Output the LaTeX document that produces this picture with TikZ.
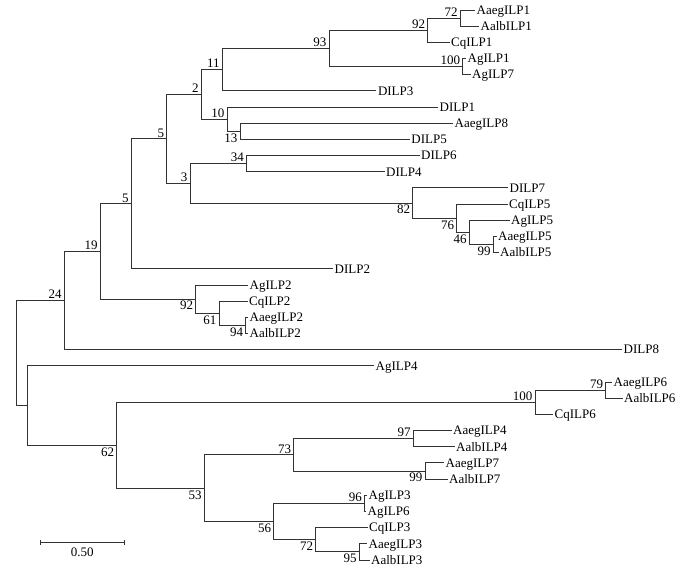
\documentclass[tikz,border=0pt]{standalone}
\usepackage{fontspec}
\setmainfont{Liberation Serif}
\usetikzlibrary{positioning}
\tikzset{
    tree/.style={line width=1pt, black!80},
    leaf/.style={anchor=west, inner xsep=1.5pt, inner ysep=0pt, text height=8.5pt, text depth=0pt},
    bsa/.style={anchor=south east, inner xsep=2.5pt, inner ysep=1.5pt},
    bsb/.style={anchor=north east, inner xsep=2.5pt, inner ysep=2pt}
}

\begin{document}
\begin{tikzpicture}[x=1pt, y=-1pt, font=\fontsize{13}{15}\selectfont]
  \useasboundingbox (0,0) rectangle (689,568);

  % leaves
  \node[leaf] (AaegILP1) at (475,10.0) {AaegILP1};
  \node[leaf] (AalbILP1) at (479,26.2) {AalbILP1};
  \node[leaf] (CqILP1) at (449.5,42.4) {CqILP1};
  \node[leaf] (AgILP1) at (466,58.5) {AgILP1};
  \node[leaf] (AgILP7) at (470.5,74.7) {AgILP7};
  \node[leaf] (DILP3) at (376.3,90.9) {DILP3};
  \node[leaf] (DILP1) at (438,107.1) {DILP1};
  \node[leaf] (AaegILP8) at (453,123.2) {AaegILP8};
  \node[leaf] (DILP5) at (409.7,139.4) {DILP5};
  \node[leaf] (DILP6) at (419.5,155.6) {DILP6};
  \node[leaf] (DILP4) at (384.5,171.8) {DILP4};
  \node[leaf] (DILP7) at (508,187.9) {DILP7};
  \node[leaf] (CqILP5) at (507.5,204.1) {CqILP5};
  \node[leaf] (AgILP5) at (509.5,220.3) {AgILP5};
  \node[leaf] (AaegILP5) at (496.5,236.5) {AaegILP5};
  \node[leaf] (AalbILP5) at (498.5,252.6) {AalbILP5};
  \node[leaf] (DILP2) at (333,268.8) {DILP2};
  \node[leaf] (AgILP2) at (248,285.0) {AgILP2};
  \node[leaf] (CqILP2) at (247.5,301.2) {CqILP2};
  \node[leaf] (AaegILP2) at (248,317.3) {AaegILP2};
  \node[leaf] (AalbILP2) at (248,333.5) {AalbILP2};
  \node[leaf] (DILP8) at (622,349.7) {DILP8};
  \node[leaf] (AgILP4) at (374,365.9) {AgILP4};
  \node[leaf] (AaegILP6) at (612,382.0) {AaegILP6};
  \node[leaf] (AalbILP6) at (622.5,398.2) {AalbILP6};
  \node[leaf] (CqILP6) at (553,414.4) {CqILP6};
  \node[leaf] (AaegILP4) at (451.5,430.6) {AaegILP4};
  \node[leaf] (AalbILP4) at (454.5,446.8) {AalbILP4};
  \node[leaf] (AaegILP7) at (444,462.9) {AaegILP7};
  \node[leaf] (AalbILP7) at (447.5,479.1) {AalbILP7};
  \node[leaf] (AgILP3) at (367,495.3) {AgILP3};
  \node[leaf] (AgILP6) at (366,511.5) {AgILP6};
  \node[leaf] (CqILP3) at (367.5,527.6) {CqILP3};
  \node[leaf] (AaegILP3) at (367,543.8) {AaegILP3};
  \node[leaf] (AalbILP3) at (369.5,560.0) {AalbILP3};

  % inner nodes
  \coordinate (root) at (16,353.1);
  \coordinate (n24) at (64.3,300.6);
  \coordinate (n19) at (100.3,251.5);
  \coordinate (n5b) at (131.3,203.85);
  \coordinate (n5a) at (166.7,138.9);
  \coordinate (n2) at (201.3,94.4);
  \coordinate (n11) at (222.3,69.65);
  \coordinate (n93) at (329,48.4);
  \coordinate (n92a) at (427.7,30.25);
  \coordinate (n72a) at (460.3,18.1);
  \coordinate (n100a) at (462.7,66.6);
  \coordinate (n10) at (227,119.2);
  \coordinate (n13) at (240,131.3);
  \coordinate (n3) at (190,183.4);
  \coordinate (n34) at (246.5,163.7);
  \coordinate (n82) at (412.7,203.1);
  \coordinate (n76) at (456.7,218.25);
  \coordinate (n46) at (469.3,232.4);
  \coordinate (n99a) at (493.3,244.55);
  \coordinate (n92b) at (195.7,299.15);
  \coordinate (n61) at (219,313.3);
  \coordinate (n94) at (245.7,325.4);
  \coordinate (n0) at (27.7,405.55);
  \coordinate (n62) at (116.7,445.2);
  \coordinate (n100b) at (535,402.25);
  \coordinate (n79) at (605.7,390.1);
  \coordinate (n53) at (204.3,488.2);
  \coordinate (n73) at (293.7,454.85);
  \coordinate (n97) at (413.3,438.7);
  \coordinate (n99b) at (425,471);
  \coordinate (n56) at (273.7,521.6);
  \coordinate (n96) at (364.5,503.4);
  \coordinate (n72b) at (315.7,539.75);
  \coordinate (n95) at (359.3,551.9);

  % branches
  \draw[tree] (root) |- (n24);
  \draw[tree] (root) |- (n0);
  \draw[tree] (n24) |- (n19);
  \draw[tree] (n24) |- (DILP8.west);
  \draw[tree] (n19) |- (n5b);
  \draw[tree] (n19) |- (n92b);
  \draw[tree] (n5b) |- (n5a);
  \draw[tree] (n5b) |- (DILP2.west);
  \draw[tree] (n5a) |- (n2);
  \draw[tree] (n5a) |- (n3);
  \draw[tree] (n2) |- (n11);
  \draw[tree] (n2) |- (n10);
  \draw[tree] (n11) |- (n93);
  \draw[tree] (n11) |- (DILP3.west);
  \draw[tree] (n93) |- (n92a);
  \draw[tree] (n93) |- (n100a);
  \draw[tree] (n92a) |- (n72a);
  \draw[tree] (n92a) |- (CqILP1.west);
  \draw[tree] (n72a) |- (AaegILP1.west);
  \draw[tree] (n72a) |- (AalbILP1.west);
  \draw[tree] (n100a) |- (AgILP1.west);
  \draw[tree] (n100a) |- (AgILP7.west);
  \draw[tree] (n10) |- (DILP1.west);
  \draw[tree] (n10) |- (n13);
  \draw[tree] (n13) |- (AaegILP8.west);
  \draw[tree] (n13) |- (DILP5.west);
  \draw[tree] (n3) |- (n34);
  \draw[tree] (n3) |- (n82);
  \draw[tree] (n34) |- (DILP6.west);
  \draw[tree] (n34) |- (DILP4.west);
  \draw[tree] (n82) |- (DILP7.west);
  \draw[tree] (n82) |- (n76);
  \draw[tree] (n76) |- (CqILP5.west);
  \draw[tree] (n76) |- (n46);
  \draw[tree] (n46) |- (AgILP5.west);
  \draw[tree] (n46) |- (n99a);
  \draw[tree] (n99a) |- (AaegILP5.west);
  \draw[tree] (n99a) |- (AalbILP5.west);
  \draw[tree] (n92b) |- (AgILP2.west);
  \draw[tree] (n92b) |- (n61);
  \draw[tree] (n61) |- (CqILP2.west);
  \draw[tree] (n61) |- (n94);
  \draw[tree] (n94) |- (AaegILP2.west);
  \draw[tree] (n94) |- (AalbILP2.west);
  \draw[tree] (n0) |- (AgILP4.west);
  \draw[tree] (n0) |- (n62);
  \draw[tree] (n62) |- (n100b);
  \draw[tree] (n62) |- (n53);
  \draw[tree] (n100b) |- (n79);
  \draw[tree] (n100b) |- (CqILP6.west);
  \draw[tree] (n79) |- (AaegILP6.west);
  \draw[tree] (n79) |- (AalbILP6.west);
  \draw[tree] (n53) |- (n73);
  \draw[tree] (n53) |- (n56);
  \draw[tree] (n73) |- (n97);
  \draw[tree] (n73) |- (n99b);
  \draw[tree] (n97) |- (AaegILP4.west);
  \draw[tree] (n97) |- (AalbILP4.west);
  \draw[tree] (n99b) |- (AaegILP7.west);
  \draw[tree] (n99b) |- (AalbILP7.west);
  \draw[tree] (n56) |- (n96);
  \draw[tree] (n56) |- (n72b);
  \draw[tree] (n96) |- (AgILP3.west);
  \draw[tree] (n96) |- (AgILP6.west);
  \draw[tree] (n72b) |- (CqILP3.west);
  \draw[tree] (n72b) |- (n95);
  \draw[tree] (n95) |- (AaegILP3.west);
  \draw[tree] (n95) |- (AalbILP3.west);

  % bootstrap values
  \node[bsa] (b24) at (n24) {24};
  \node[bsa] (b19) at (n19) {19};
  \node[bsa] (b5b) at (n5b) {5};
  \node[bsa] (b5a) at (n5a) {5};
  \node[bsa] (b2) at (n2) {2};
  \node[bsa] (b11) at (n11) {11};
  \node[bsa] (b93) at (n93) {93};
  \node[bsa] (b92a) at (n92a) {92};
  \node[bsa] (b72a) at (n72a) {72};
  \node[bsa] (b100a) at (n100a) {100};
  \node[bsa] (b10) at (n10) {10};
  \node[bsb] (b13) at (n13) {13};
  \node[bsa] (b3) at (n3) {3};
  \node[bsa] (b34) at (n34) {34};
  \node[bsb] (b82) at (n82) {82};
  \node[bsb] (b76) at (n76) {76};
  \node[bsb] (b46) at (n46) {46};
  \node[bsb] (b99a) at (n99a) {99};
  \node[bsb] (b92b) at (n92b) {92};
  \node[bsb] (b61) at (n61) {61};
  \node[bsb] (b94) at (n94) {94};
  \node[bsb] (b62) at (n62) {62};
  \node[bsa] (b100b) at (n100b) {100};
  \node[bsa] (b79) at (n79) {79};
  \node[bsb] (b53) at (n53) {53};
  \node[bsa] (b73) at (n73) {73};
  \node[bsa] (b97) at (n97) {97};
  \node[bsb] (b99b) at (n99b) {99};
  \node[bsb] (b56) at (n56) {56};
  \node[bsa] (b96) at (n96) {96};
  \node[bsb] (b72b) at (n72b) {72};
  \node[bsb] (b95) at (n95) {95};

  % scale bar
  \coordinate (sb1) at (40,542.3);
  \coordinate (sb2) at (124.3,542.3);
  \coordinate (sbm) at (82.2,542.3);
  \draw[tree] (sb1) -- (sb2);
  \draw[tree] ([yshift=2.5pt]sb1) -- ([yshift=-2.5pt]sb1);
  \draw[tree] ([yshift=2.5pt]sb2) -- ([yshift=-2.5pt]sb2);
  \node[below=5pt of sbm, inner sep=0pt] (sblab) {0.50};
\end{tikzpicture}
\end{document}
